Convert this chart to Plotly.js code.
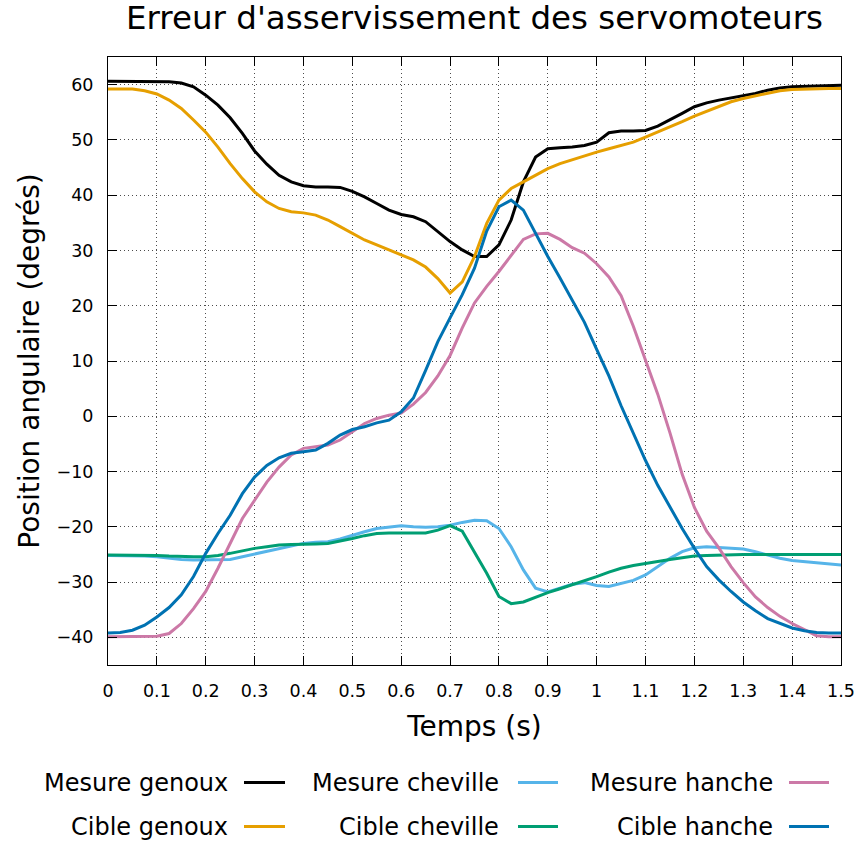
<!DOCTYPE html>
<html><head><meta charset="utf-8">
<script src="https://cdn.plot.ly/plotly-3.0.1.min.js"></script>
<style>html,body{margin:0;padding:0;background:#fff;} #chart{width:859px;height:843px;}</style>
</head><body><div id="chart"></div>
<script>
const t = [0,0.025,0.05,0.075,0.1,0.125,0.15,0.175,0.2,0.225,0.25,0.275,0.3,0.325,0.35,0.375,0.4,0.425,0.45,0.475,0.5,0.525,0.55,0.575,0.6,0.625,0.65,0.675,0.7,0.725,0.75,0.775,0.8,0.825,0.85,0.875,0.9,0.925,0.95,0.975,1.0,1.025,1.05,1.075,1.1,1.125,1.15,1.175,1.2,1.225,1.25,1.275,1.3,1.325,1.35,1.375,1.4,1.425,1.45,1.475,1.5];

const mesureGenoux = [60.6,60.6,60.6,60.6,60.6,60.5,60.3,59.6,58.1,56.3,54.0,51.2,48.0,45.6,43.6,42.4,41.7,41.5,41.5,41.4,40.7,39.7,38.5,37.3,36.5,36.1,35.2,33.4,31.6,30.1,28.9,28.9,31.0,35.5,42.4,46.9,48.4,48.6,48.7,49.0,49.6,51.3,51.6,51.6,51.7,52.5,53.6,54.8,56.0,56.7,57.2,57.6,57.9,58.4,59.0,59.4,59.6,59.7,59.8,59.8,59.9];

const cibleGenoux = [59.2,59.2,59.2,58.9,58.3,57.2,55.7,53.6,51.4,48.7,45.7,43.0,40.6,38.8,37.6,37.0,36.8,36.4,35.5,34.3,33.1,31.9,31.0,30.1,29.2,28.3,27.0,24.9,22.3,24.3,28.9,34.9,39.1,41.2,42.4,43.6,44.8,45.7,46.4,47.2,47.8,48.4,49.0,49.6,50.5,51.4,52.3,53.3,54.3,55.2,56.1,56.9,57.5,58.0,58.5,58.9,59.1,59.2,59.3,59.3,59.3];

const mesureCheville = [-25.2,-25.2,-25.3,-25.3,-25.4,-25.7,-25.9,-26.0,-26.0,-26.0,-25.9,-25.4,-24.9,-24.4,-23.9,-23.4,-23.0,-22.8,-22.7,-22.2,-21.5,-20.9,-20.3,-20.0,-19.8,-20.0,-20.1,-20.0,-19.7,-19.2,-18.8,-18.9,-20.3,-23.6,-27.8,-31.1,-31.8,-31.1,-30.4,-30.1,-30.6,-30.8,-30.3,-29.7,-28.7,-27.2,-25.7,-24.5,-23.8,-23.6,-23.7,-23.8,-24.0,-24.5,-25.1,-25.7,-26.1,-26.3,-26.4,-26.6,-26.9];

const cibleCheville = [-25.1,-25.1,-25.1,-25.2,-25.2,-25.3,-25.4,-25.4,-25.4,-25.2,-24.8,-24.3,-23.9,-23.6,-23.3,-23.2,-23.2,-23.1,-23.0,-22.6,-22.1,-21.6,-21.2,-21.1,-21.1,-21.1,-21.1,-20.6,-19.8,-20.8,-24.5,-28.4,-32.6,-33.9,-33.6,-32.7,-31.9,-31.2,-30.5,-29.8,-29.0,-28.2,-27.5,-27.0,-26.6,-26.2,-25.9,-25.6,-25.3,-25.2,-25.1,-25.1,-25.0,-25.0,-25.0,-25.0,-25.0,-25.0,-25.0,-25.0,-25.0];

const mesureHanche = [-39.9,-39.9,-39.9,-39.9,-39.8,-39.3,-37.5,-34.8,-31.7,-27.5,-23.0,-18.5,-15.2,-11.9,-9.2,-7.0,-5.8,-5.5,-5.2,-4.3,-2.8,-1.3,-0.4,0.2,0.6,2.2,4.3,7.3,11.0,16.0,20.5,23.5,26.2,29.2,32.0,33.0,33.1,32.0,30.5,29.5,27.6,25.2,21.8,16.3,10.2,4.0,-3.0,-10.5,-16.5,-20.8,-23.8,-27.2,-30.1,-32.7,-34.6,-36.2,-37.5,-38.6,-39.7,-39.9,-39.9];

const cibleHanche = [-39.2,-39.1,-38.7,-37.8,-36.3,-34.6,-32.3,-29.0,-24.8,-21.2,-17.9,-14.0,-11.0,-8.9,-7.5,-6.7,-6.4,-6.1,-4.9,-3.4,-2.4,-1.9,-1.2,-0.7,0.8,3.3,8.3,13.5,17.8,22.0,26.8,33.5,37.9,39.1,37.3,33.1,28.9,25.0,21.1,17.0,12.1,7.3,1.9,-3.1,-8.0,-12.5,-16.4,-20.3,-23.9,-27.2,-29.6,-31.7,-33.6,-35.2,-36.6,-37.5,-38.3,-38.8,-39.1,-39.2,-39.2];

const seriesNames = ["Mesure genoux","Cible genoux","Mesure cheville","Cible cheville","Mesure hanche","Cible hanche"];
const seriesValues = [mesureGenoux, cibleGenoux, mesureCheville, cibleCheville, mesureHanche, cibleHanche];
const seriesColors = ["#000000","#E69F00","#56B4E9","#009E73","#CC79A7","#0072B2"];

const FONT = "DejaVu Sans, sans-serif";
const W = 859, H = 843;
const M = {l:108, r:18, t:57, b:178};
const pw = W - M.l - M.r, ph = H - M.t - M.b;
const px2x = p => (p - M.l) / pw;
const py2y = p => (H - M.b - p) / ph;

const traces = seriesNames.map((n, i) => ({
  x: t, y: seriesValues[i], name: n, type: 'scatter', mode: 'lines',
  line: {color: seriesColors[i], width: 3}, showlegend: false
}));

// custom legend (text right, sample to the right), 3 columns x 2 rows
const colTextRight = [230, 501, 775];
const colLine = [[244,285],[518,558],[789,829]];
const rowY = [782.5, 826.5];
const annotations = [];
const shapes = [];
seriesNames.forEach((n, i) => {
  const c = Math.floor(i / 2), r = i % 2;
  annotations.push({text: n, xref:'paper', yref:'paper', x: px2x(colTextRight[c]), y: py2y(rowY[r]),
    xanchor:'right', yanchor:'middle', showarrow:false, font:{family:FONT, size:24, color:'#000'}});
  shapes.push({type:'line', xref:'paper', yref:'paper', x0: px2x(colLine[c][0]), x1: px2x(colLine[c][1]),
    y0: py2y(rowY[r]), y1: py2y(rowY[r]), line:{color: seriesColors[i], width:3}});
});

const axisCommon = {
  showline:true, linecolor:'#000', linewidth:1, mirror:'ticks',
  ticks:'inside', ticklen:9, tickwidth:1, tickcolor:'#000',
  showgrid:true, gridcolor:'rgba(0,0,0,0.7)', gridwidth:1, griddash:'1px,3px',
  zeroline:false, tickfont:{family:FONT, size:17.5, color:'#000'}
};

const layout = {
  width: W, height: H, margin: M, paper_bgcolor:'#fff', plot_bgcolor:'#fff',
  font:{family:FONT, color:'#000'},
  title:{text:"Erreur d'asservissement des servomoteurs", x:0.5, xref:'paper', xanchor:'center',
    y: 1 - 18/H, yref:'container', yanchor:'middle', font:{family:FONT, size:32.5, color:'#000'}},
  xaxis: Object.assign({}, axisCommon, {range:[0,1.5], dtick:0.1, tick0:0, ticklabelstandoff:10,
    title:{text:'Temps (s)', font:{family:FONT, size:28, color:'#000'}, standoff:16}}),
  yaxis: Object.assign({}, axisCommon, {range:[-45,65], dtick:10, tick0:0, ticklabelstandoff:10,
    title:{text:'Position angulaire (degrés)', font:{family:FONT, size:28, color:'#000'}, standoff:8}}),
  annotations, shapes, showlegend:false
};

Plotly.newPlot('chart', traces, layout, {displayModeBar:false, staticPlot:true});
</script>
</body></html>
